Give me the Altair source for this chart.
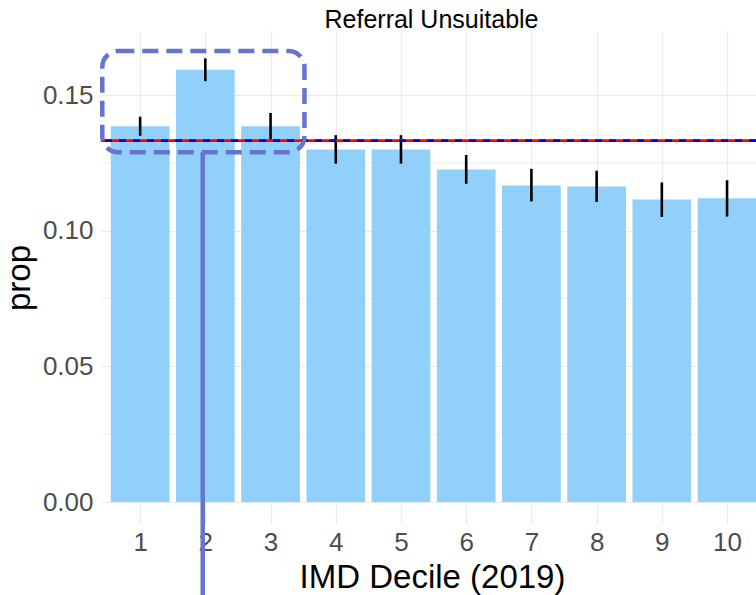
import altair as alt
import pandas as pd

# Proportion of referrals marked unsuitable, by IMD decile, with 95% CI bounds
deciles = [1, 2, 3, 4, 5, 6, 7, 8, 9, 10]
prop = [0.1385, 0.1593, 0.1385, 0.1299, 0.1299, 0.1226, 0.1167, 0.1163, 0.1115, 0.1120]
lower = [0.1350, 0.1551, 0.1336, 0.1247, 0.1247, 0.1173, 0.1108, 0.1106, 0.1051, 0.1052]
upper = [0.1420, 0.1635, 0.1434, 0.1352, 0.1352, 0.1279, 0.1228, 0.1221, 0.1178, 0.1186]

# Overall proportion across all deciles
overall_prop = 0.1332

# Axis breaks
y_major = [0.0, 0.05, 0.10, 0.15]
y_minor = [0.025, 0.075, 0.125]

# Highlight box around the three most deprived deciles and its pointer line
highlight_x = [0.42, 3.52]
highlight_y = [0.1289, 0.1662]
pointer_x = 1.96
pointer_y = [0.1289, -0.035]

bar_half_width = 0.45
x_domain = [0.4, 10.444]
y_domain = [-0.0081, 0.1736]

FONT = "Liberation Sans"
GRID = "#EBEBEB"
ANNOT = "#6574CF"

df = pd.DataFrame({"decile": deciles, "prop": prop, "lower": lower, "upper": upper})

x_scale = alt.Scale(domain=x_domain, nice=False, zero=False)
y_scale = alt.Scale(domain=y_domain, nice=False, zero=False)

x_axis = alt.Axis(
    values=deciles,
    format="d",
    title="IMD Decile (2019)",
    grid=True,
    gridColor=GRID,
    gridWidth=1.2,
    domain=False,
    ticks=False,
    labelFontSize=26,
    labelColor="#4D4D4D",
    labelPadding=5,
    labelFont=FONT,
    titleFont=FONT,
    titleFontSize=33,
    titleFontWeight="normal",
    titleColor="black",
    titleX=331,
    titlePadding=6,
)
y_axis = alt.Axis(
    values=y_major,
    format=".2f",
    title="prop",
    grid=True,
    gridColor=GRID,
    gridWidth=1.2,
    domain=False,
    ticks=False,
    labelFontSize=26,
    labelColor="#4D4D4D",
    labelPadding=8,
    labelFont=FONT,
    titleFont=FONT,
    titleFontSize=33,
    titleFontWeight="normal",
    titleColor="black",
    titlePadding=6,
)

base = alt.Chart(df)

minor_grid = alt.Chart(pd.DataFrame({"y": y_minor})).mark_rule(
    color=GRID, strokeWidth=0.8
).encode(y=alt.Y("y:Q", scale=y_scale, axis=y_axis))

bars = base.transform_calculate(
    x0=f"datum.decile - {bar_half_width}", x1=f"datum.decile + {bar_half_width}"
).mark_rect(color="#91D0FA").encode(
    x=alt.X("x0:Q", scale=x_scale, axis=x_axis),
    x2="x1:Q",
    y=alt.Y("prop:Q", scale=y_scale, axis=y_axis),
    y2=alt.datum(0),
)

errbars = base.mark_rule(color="black", strokeWidth=2.6).encode(
    x=alt.X("decile:Q", scale=x_scale, axis=x_axis),
    y=alt.Y("lower:Q", scale=y_scale, axis=y_axis),
    y2="upper:Q",
)

mean_df = pd.DataFrame({"y": [overall_prop]})
mean_red = alt.Chart(mean_df).mark_rule(color="#FF0000", strokeWidth=2.6).encode(
    y=alt.Y("y:Q", scale=y_scale, axis=y_axis)
)
mean_blue = alt.Chart(mean_df).mark_rule(
    color="#0000FF", strokeWidth=2.6, strokeDash=[7, 7]
).encode(y=alt.Y("y:Q", scale=y_scale, axis=y_axis))

box = alt.Chart(
    pd.DataFrame({"x0": [highlight_x[0]], "x1": [highlight_x[1]],
                  "y0": [highlight_y[0]], "y1": [highlight_y[1]]})
).mark_rect(
    fillOpacity=0, stroke=ANNOT, strokeWidth=4.5, strokeDash=[16, 8], cornerRadius=16
).encode(
    x=alt.X("x0:Q", scale=x_scale, axis=x_axis),
    x2="x1:Q",
    y=alt.Y("y0:Q", scale=y_scale, axis=y_axis),
    y2="y1:Q",
)

pointer = alt.Chart(
    pd.DataFrame({"x": [pointer_x], "y0": [pointer_y[0]], "y1": [pointer_y[1]]})
).mark_rule(color=ANNOT, strokeWidth=4.5).encode(
    x=alt.X("x:Q", scale=x_scale, axis=x_axis),
    y=alt.Y("y0:Q", scale=y_scale, axis=y_axis),
    y2="y1:Q",
)

chart = alt.layer(
    minor_grid, bars, errbars, mean_red, mean_blue, box, pointer
).properties(
    width=655,
    height=493,
    autosize=alt.AutoSizeParams(type="none"),
    padding={"left": 101, "top": 31, "right": 0, "bottom": 71},
    background="white",
    title=alt.TitleParams(
        text="Referral Unsuitable",
        font=FONT,
        fontSize=25,
        fontWeight="normal",
        color="black",
        anchor="middle",
        baseline="alphabetic",
        offset=3,
        dx=3,
        dy=25,
    ),
).configure_view(stroke=None)

chart.save("out.html", embed_options={"renderer": "svg", "actions": False})
